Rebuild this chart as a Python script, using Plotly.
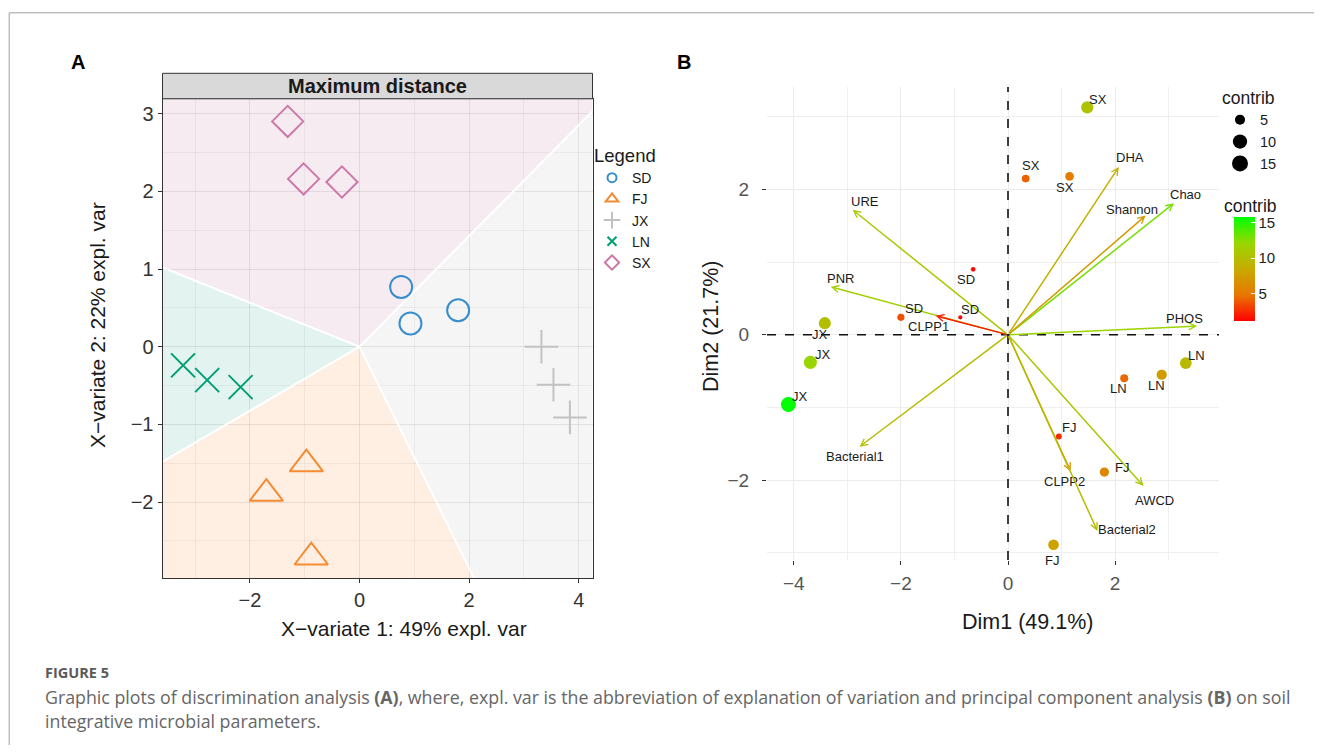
import plotly.graph_objects as go
from plotly.colors import sample_colorscale

# page body has an 8px margin: figure is 1306x737 drawn at (8, 8)
OFF = 8
FW, FH = 1306, 737


def px(v):
    return (v - OFF) / FW


def py(v):
    return 1 - (v - OFF) / FH


# ---------------- Panel A : PLS-DA individual scores ----------------
plsda_groups = ["SD", "FJ", "JX", "LN", "SX"]
plsda_colors = ["#388ECC", "#F68B33", "#C2C2C2", "#009E73", "#CC79A7"]
sd_x = [0.76, 0.93, 1.80]
sd_y = [0.77, 0.30, 0.47]
fj_x = [-0.97, -1.70, -0.88]
fj_y = [-1.51, -1.89, -2.71]
jx_x = [3.32, 3.54, 3.84]
jx_y = [0.00, -0.49, -0.91]
ln_x = [-3.22, -2.78, -2.17]
ln_y = [-0.24, -0.43, -0.52]
sx_x = [-1.31, -1.02, -0.32]
sx_y = [2.90, 2.16, 2.12]
# prediction-region boundaries: from the centre to these end points
boundary_center = [0.0, 0.0]
boundary_x = [-3.595, -3.595, 2.09, 4.252]   # SX|LN, LN|FJ, FJ|JX, JX|SX
boundary_y = [1.02, -1.48, -2.977, 3.03]

# ---------------- Panel B : PCA biplot ----------------
ind_names = ["SX", "SX", "SX", "SD", "SD", "SD", "JX", "JX", "JX",
             "LN", "LN", "LN", "FJ", "FJ", "FJ"]
ind_x = [1.48, 0.33, 1.15, -0.65, -0.89, -2.00, -3.42, -3.69, -4.10,
         3.32, 2.87, 2.17, 0.95, 1.80, 0.85]
ind_y = [3.13, 2.15, 2.18, 0.90, 0.24, 0.24, 0.16, -0.38, -0.96,
         -0.39, -0.55, -0.60, -1.40, -1.89, -2.89]
ind_contrib = [10.5, 4.2, 5.3, 1.5, 1.2, 3.6, 10.2, 12.0, 15.85,
               9.8, 7.4, 4.5, 2.5, 6.0, 8.0]
var_names = ["DHA", "Chao", "Shannon", "PHOS", "URE", "PNR", "CLPP1",
             "Bacterial1", "CLPP2", "AWCD", "Bacterial2"]
var_x = [2.07, 3.10, 2.57, 3.53, -2.90, -3.31, -1.35, -2.77, 1.17, 2.53, 1.67]
var_y = [2.31, 1.81, 1.64, 0.12, 1.72, 0.66, 0.26, -1.54, -1.88, -2.08, -2.70]
var_contrib = [9.0, 13.0, 7.5, 12.0, 11.0, 11.5, 2.0, 10.0, 6.5, 11.0, 10.0]
size_legend_values = [5, 10, 15]
colorbar_ticks = [5, 10, 15]

# ---------------- styles ----------------
FONT = "Liberation Sans, Arial, sans-serif"
CS = [[0, "#FF0000"], [0.25, "#E87600"], [0.5, "#C8AB00"], [0.75, "#98D700"], [1, "#00FF00"]]
C_MIN = min(ind_contrib + var_contrib)
C_MAX = max(ind_contrib + var_contrib)
SIZEREF = 0.1409

XA = [-3.595, 4.252]
YA = [-2.977, 3.191]
A_DOM_X = [px(162.5), px(592.5)]
A_DOM_Y = [py(578), py(98.8)]
XB = [-4.5, 3.94]
YB = [-3.1, 3.41]
B_DOM_X = [px(767), px(1219)]
B_DOM_Y = [py(560), py(87)]

fig = go.Figure()

# --- panel A background regions
cx, cy = boundary_center
regions = {
    "SX": ([cx, boundary_x[0], XA[0], XA[1], boundary_x[3]],
           [cy, boundary_y[0], YA[1], YA[1], boundary_y[3]], "rgba(204,121,167,0.15)"),
    "LN": ([cx, boundary_x[0], boundary_x[1]],
           [cy, boundary_y[0], boundary_y[1]], "rgba(0,158,115,0.11)"),
    "FJ": ([cx, boundary_x[1], XA[0], boundary_x[2]],
           [cy, boundary_y[1], YA[0], boundary_y[2]], "rgba(246,139,51,0.14)"),
    "JX": ([cx, boundary_x[2], XA[1], boundary_x[3]],
           [cy, boundary_y[2], YA[0], boundary_y[3]], "rgba(194,194,194,0.16)"),
}
for name, (rx, ry, col) in regions.items():
    fig.add_trace(go.Scatter(x=rx + [rx[0]], y=ry + [ry[0]], mode="lines", fill="toself",
                             fillcolor=col, line=dict(width=0), hoverinfo="skip",
                             showlegend=False, xaxis="x", yaxis="y"))
for bx, by in zip(boundary_x, boundary_y):
    fig.add_trace(go.Scatter(x=[cx, bx], y=[cy, by], mode="lines",
                             line=dict(color="white", width=2), hoverinfo="skip",
                             showlegend=False, xaxis="x", yaxis="y"))

groups_xy = {"SD": (sd_x, sd_y), "FJ": (fj_x, fj_y), "JX": (jx_x, jx_y),
             "LN": (ln_x, ln_y), "SX": (sx_x, sx_y)}
symbols = {"SD": "circle-open", "FJ": "triangle-up-open", "JX": "cross-thin-open",
           "LN": "x-thin-open", "SX": "diamond-open"}
sizes = {"SD": 22, "FJ": 29, "JX": 24, "LN": 24, "SX": 24}
leg_sizes = {"SD": 9, "FJ": 11, "JX": 12, "LN": 9, "SX": 11}
for g, col in zip(plsda_groups, plsda_colors):
    gx, gy = groups_xy[g]
    fig.add_trace(go.Scatter(x=gx, y=gy, mode="markers", name=g, showlegend=False,
                             marker=dict(symbol=symbols[g], size=sizes[g], color=col,
                                         line=dict(color=col, width=2)),
                             xaxis="x", yaxis="y"))
for g, col in zip(plsda_groups, plsda_colors):
    fig.add_trace(go.Scatter(x=[None], y=[None], mode="markers", name=g, legend="legend",
                             marker=dict(symbol=symbols[g], size=leg_sizes[g], color=col,
                                         line=dict(color=col, width=2)),
                             xaxis="x", yaxis="y"))

# --- panel B individuals
fig.add_trace(go.Scatter(
    x=ind_x, y=ind_y, mode="markers", showlegend=False, xaxis="x2", yaxis="y2",
    marker=dict(size=ind_contrib, sizemode="area", sizeref=SIZEREF, color=ind_contrib,
                colorscale=CS, cmin=C_MIN, cmax=C_MAX, opacity=1, line=dict(width=0),
                showscale=True,
                colorbar=dict(x=px(1234), xanchor="left", xpad=0, ypad=0,
                              y=py(268.5), yanchor="middle", len=104, lenmode="pixels",
                              thickness=21, thicknessmode="pixels", tickvals=colorbar_ticks,
                              ticks="inside", ticklen=4, tickcolor="white",
                              tickfont=dict(family=FONT, size=15, color="#222"),
                              outlinewidth=0))))

# size legend (legend2)
for v in size_legend_values:
    d = 1.2 * (2 * v / SIZEREF) ** 0.5
    fig.add_trace(go.Scatter(x=[None], y=[None], mode="markers", name=str(v), legend="legend2",
                             marker=dict(size=d, color="black"), xaxis="x2", yaxis="y2"))

annotations = []
shapes = []

# arrows for variables
var_colors = sample_colorscale(CS, [(v - C_MIN) / (C_MAX - C_MIN) for v in var_contrib])
var_label_shift = [(11, -9), (11, -9), (-14, -6), (-12.5, -8), (12.5, -8), (10, -8),
                   (-7, 11), (-5, 10), (-6, 10), (11, 15), (30, -1.5)]
for name, vx, vy, c, (dx, dy) in zip(var_names, var_x, var_y, var_colors, var_label_shift):
    annotations.append(dict(x=vx, y=vy, xref="x2", yref="y2", ax=0, ay=0, axref="x2",
                            ayref="y2", text="", showarrow=True, arrowhead=5, arrowsize=0.9,
                            arrowwidth=1.5, arrowcolor=c, standoff=0))
    annotations.append(dict(x=vx, y=vy, xref="x2", yref="y2", text=name, showarrow=False,
                            xshift=dx, yshift=-dy, xanchor="center", yanchor="middle",
                            font=dict(family=FONT, size=13, color="#1a1a1a")))

ind_label_shift = [(11, -8), (5, -13), (-5, 11), (-7, 10), (10, -8), (13.5, -9),
                   (-4.5, 11), (12.5, -8), (12, -8), (10.5, -8), (-5.5, 11), (-6, 10),
                   (10, -8.5), (18, -4.3), (-1.5, 15.5)]
for name, ix, iy, (dx, dy) in zip(ind_names, ind_x, ind_y, ind_label_shift):
    annotations.append(dict(x=ix, y=iy, xref="x2", yref="y2", text=name, showarrow=False,
                            xshift=dx, yshift=-dy, xanchor="center", yanchor="middle",
                            font=dict(family=FONT, size=13, color="#1a1a1a")))

# dashed reference lines panel B
shapes.append(dict(type="line", xref="x2 domain", yref="y2", x0=0, x1=1, y0=0, y1=0,
                   line=dict(color="#111", width=1.6, dash="dash"), layer="above"))
shapes.append(dict(type="line", xref="x2", yref="y2 domain", x0=0, x1=0, y0=0, y1=1,
                   line=dict(color="#111", width=1.6, dash="dash"), layer="above"))

# strip of panel A
shapes.append(dict(type="rect", xref="paper", yref="paper", x0=A_DOM_X[0], x1=A_DOM_X[1],
                   y0=py(98.8), y1=py(73.3), fillcolor="#D9D9D9",
                   line=dict(color="#333", width=1)))


def txt(x, y, text, size, color="#1a1a1a", family=FONT, xanchor="center", angle=0):
    return dict(x=px(x), y=py(y), xref="paper", yref="paper", text=text, showarrow=False,
                xanchor=xanchor, yanchor="middle", textangle=angle,
                font=dict(family=family, size=size, color=color))


annotations += [
    txt(377.5, 86, "<b>Maximum distance</b>", 20),
    txt(404, 628, "X\u2212variate 1: 49% expl. var", 21),
    txt(98, 325, "X\u2212variate 2: 22% expl. var", 21, angle=-90),
    txt(1027, 622, "Dim1 (49.1%)", 21.5),
    txt(711, 327, "Dim2 (21.7%)", 21.5, angle=-90),
    txt(1222, 206, "contrib", 17.5, xanchor="left"),
    txt(78, 62.5, "<b>A</b>", 20, color="black"),
    txt(684, 62.5, "<b>B</b>", 20, color="black"),
    txt(43, 672, "<b>FIGURE 5</b>", 14.5, color="#5a5a5a", family="Open Sans", xanchor="left"),
    txt(43, 697, "Graphic plots of discrimination analysis <b>(A)</b>, where, expl. var is the "
                 "abbreviation of explanation of variation and principal component analysis "
                 "<b>(B)</b> on soil", 17.8, color="#666", family="Open Sans", xanchor="left"),
    txt(43, 720.5, "integrative microbial parameters.", 17.8, color="#666", family="Open Sans",
        xanchor="left"),
]

# outer frame lines
shapes.append(dict(type="line", xref="paper", yref="paper", x0=px(9.3), x1=1, y0=py(12.7),
                   y1=py(12.7), line=dict(color="#BDBDBD", width=1.5)))
shapes.append(dict(type="line", xref="paper", yref="paper", x0=px(9.3), x1=px(9.3), y0=0,
                   y1=py(12.7), line=dict(color="#BDBDBD", width=1.5)))

axA = dict(showline=True, mirror=True, linecolor="#333", linewidth=1, ticks="outside",
           ticklen=4, tickcolor="#333", tickfont=dict(family=FONT, size=20, color="#333"),
           zeroline=False, showgrid=True, gridcolor="rgba(0,0,0,0.09)", gridwidth=1)
axB = dict(showline=False, ticks="outside", ticklen=4, tickcolor="#333",
           tickfont=dict(family=FONT, size=19, color="#555"), zeroline=False, showgrid=True,
           gridcolor="#EBEBEB", gridwidth=1)

fig.update_layout(
    width=FW, height=FH, margin=dict(l=0, r=0, t=0, b=0),
    paper_bgcolor="white", plot_bgcolor="white",
    xaxis=dict(axA, domain=A_DOM_X, range=XA, anchor="y", tick0=0, dtick=2,
               minor=dict(dtick=1, showgrid=True, gridcolor="rgba(0,0,0,0.05)", gridwidth=0.6)),
    yaxis=dict(axA, domain=A_DOM_Y, range=YA, anchor="x", tick0=0, dtick=1,
               minor=dict(dtick=0.5, showgrid=True, gridcolor="rgba(0,0,0,0.05)", gridwidth=0.6)),
    xaxis2=dict(axB, domain=B_DOM_X, range=XB, anchor="y2", tick0=0, dtick=2,
                ticklabelstandoff=2,
                minor=dict(dtick=1, showgrid=True, gridcolor="#EFEFEF", gridwidth=0.8)),
    yaxis2=dict(axB, domain=B_DOM_Y, range=YB, anchor="x2", tick0=0, dtick=2,
                ticklabelstandoff=9,
                minor=dict(dtick=1, showgrid=True, gridcolor="#EFEFEF", gridwidth=0.8)),
    legend=dict(x=px(592), y=py(138), xanchor="left", yanchor="top", bgcolor="rgba(0,0,0,0)",
                title=dict(text="Legend", font=dict(family=FONT, size=18.5, color="#1a1a1a")),
                font=dict(family=FONT, size=14, color="#1a1a1a"), tracegroupgap=0,
                itemclick=False),
    legend2=dict(x=px(1220), y=py(81), xanchor="left", yanchor="top", bgcolor="rgba(0,0,0,0)",
                 title=dict(text="contrib", font=dict(family=FONT, size=17.5, color="#1a1a1a")),
                 font=dict(family=FONT, size=14.5, color="#1a1a1a"), tracegroupgap=0),
    annotations=annotations, shapes=shapes,
)

fig.write_html("out.html")
